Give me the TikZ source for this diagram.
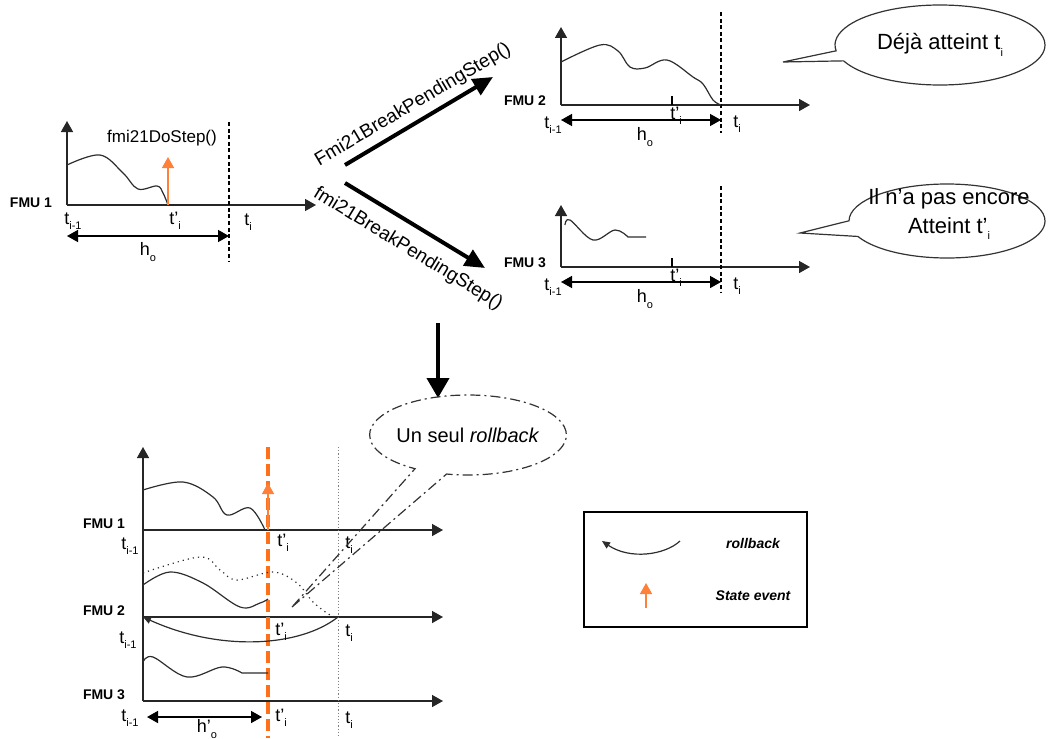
\documentclass[tikz,border=0pt]{standalone}
\usepackage{fontspec}
\setmainfont{Liberation Sans}
\usetikzlibrary{arrows.meta,shapes.geometric,shapes.callouts}
\definecolor{evorange}{RGB}{255,112,24}
\definecolor{evlight}{RGB}{255,128,56}
\definecolor{sigcol}{RGB}{45,45,45}
\newcommand{\lowsub}[2]{#1\raisebox{-0.55ex}{\fontsize{5.5}{6}\selectfont #2}}

\begin{document}
\begin{tikzpicture}[x=0.5pt, y=-0.5pt, >={Triangle[length=5.5pt,width=6pt]},
	every node/.style={font=\fontsize{9}{11}\selectfont, inner sep=1pt},
	fmu/.style={font=\bfseries\fontsize{7}{8}\selectfont},
	leg/.style={font=\bfseries\itshape\fontsize{7}{8}\selectfont},
	axis/.style={draw=black!85, line width=0.75pt, ->},
	span/.style={draw=black, line width=0.75pt, <->},
	signal/.style={draw=sigcol, line width=0.6pt},
	stepline/.style={draw=black, line width=1pt, dash pattern=on 2pt off 1.3pt},
	event/.style={draw=evlight, line width=0.75pt, ->},
	bigarrow/.style={line width=2pt, -{Triangle[length=10pt,width=9pt]}},
	bubble/.style={ellipse callout, draw=black!80, line width=0.6pt, fill=white, align=center, font=\fontsize{11}{14.5}\selectfont},
	call/.style={font=\fontsize{9.5}{11}\selectfont}]
	\useasboundingbox (0,0) rectangle (1048,738);

	% FMU 1, before the step
	\coordinate (O1) at (67,205);
	\coordinate (Y1) at (67,121);
	\coordinate (X1) at (316,205);
	\draw[axis] (O1) -- (Y1);
	\draw[axis] (O1) -- (X1);
	\draw[signal] plot[smooth, tension=0.6] coordinates {(67,165) (100,155) (123,173) (138,189) (157,186) (163,193) (168,205)};
	\coordinate (E1) at (168,205);
	\coordinate (E1t) at (168,157);
	\draw[event] (E1) -- (E1t);
	\coordinate (Dt1) at (229,122);
	\coordinate (Db1) at (229,262);
	\draw[stepline] (Dt1) -- (Db1);
	\coordinate (Ha1) at (67,236);
	\coordinate (Hb1) at (229,236);
	\draw[span] (Ha1) -- (Hb1);
	\node[fmu] (fmu1) at (31,203) {FMU 1};
	\node (ta1) at (73,221) {\lowsub{t}{i-1}};
	\node (tp1) at (175,221) {\lowsub{t'}{i}};
	\node (ti1) at (248,222) {\lowsub{t}{i}};
	\node (h1) at (148,252) {\lowsub{h}{o}};
	\node[font=\fontsize{8.5}{10}\selectfont] (do1) at (162,138) {fmi21DoStep()};

	% FMU 2 and FMU 3 after the request
	\foreach \n/\y/\ytop/\dtop/\dbot in {2/105/27/12/133, 3/267/205/186/292} {
		\coordinate (O\n) at (561,\y);
		\coordinate (Y\n) at (561,\ytop);
		\coordinate (X\n) at (810,\y);
		\draw[axis] (O\n) -- (Y\n);
		\draw[axis] (O\n) -- (X\n);
		\coordinate (Dt\n) at (721,\dtop);
		\coordinate (Db\n) at (721,\dbot);
		\draw[stepline] (Dt\n) -- (Db\n);
		\coordinate (K\n) at (672,\y-9);
		\draw[line width=0.6pt] (K\n) -- (K\n |- O\n);
		\coordinate (Ha\n) at (561,\y+15);
		\coordinate (Hb\n) at (721,\y+15);
		\draw[span] (Ha\n) -- (Hb\n);
		\node[fmu] (fmu\n) at (525,\y-4) {FMU \n};
		\node (ta\n) at (553,\y+20) {\lowsub{t}{i-1}};
		\node (tp\n) at (676,\y+11) {\lowsub{t'}{i}};
		\node (ti\n) at (737,\y+19) {\lowsub{t}{i}};
		\node (h\n) at (645,\y+32) {\lowsub{h}{o}};
	}
	\draw[signal] plot[smooth, tension=0.6] coordinates {(561,62) (600,45) (618,51) (630,67) (645,68) (667,60) (693,77) (703,84) (713,100) (721,105)};
	\draw[signal] plot[smooth, tension=0.6] coordinates {(565,225) (570,220) (593,240) (615,230) (628,237)} -- (646,237);

	% requests
	\coordinate (A2s) at (345,165);
	\coordinate (A2e) at (493,77);
	\coordinate (A3s) at (345,183);
	\coordinate (A3e) at (485,268);
	\draw[bigarrow] (A2s) -- (A2e);
	\draw[bigarrow] (A3s) -- (A3e);
	\node[call, rotate=30.7] (brk2) at (413,105) {Fmi21BreakPendingStep()};
	\node[call, rotate=-31.5] (brk3) at (408,249) {fmi21BreakPendingStep()};

	\coordinate (tipD) at (783,62);
	\node[bubble, minimum width=105pt, minimum height=40pt, callout absolute pointer={(tipD)}] (deja) at (940,45) {Déjà atteint \lowsub{t}{i}};
	\coordinate (tipP) at (800,233);
	\node[bubble, minimum width=98pt, minimum height=37pt, callout pointer arc=25, callout absolute pointer={(tipP)}] (pasencore) at (947,221) {};
	\node[align=center, font=\fontsize{11}{14.5}\selectfont] (pastext) at (949,214) {Il n'a pas encore\\Atteint \lowsub{t'}{i}};

	\coordinate (Vs) at (438,323);
	\coordinate (Ve) at (438,398);
	\draw[line width=2pt, -{Triangle[length=10pt,width=11pt]}] (Vs) -- (Ve);

	% single rollback
	\coordinate (Top) at (143,447);
	\coordinate (Bot) at (143,701);
	\draw[axis] (Bot) -- (Top);
	\foreach \n/\y in {1/530, 2/617, 3/701} {
		\coordinate (L\n) at (143,\y);
		\coordinate (R\n) at (443,\y);
		\draw[axis] (L\n) -- (R\n);
		\node[fmu] (bfmu\n) at (104,\y-6) {FMU \n};
	}
	\coordinate (Et) at (268,447);
	\coordinate (Eb) at (268,738);
	\draw[evorange, line width=2pt, dash pattern=on 6pt off 2.5pt] (Et) -- (Eb);
	\coordinate (Ea) at (268,483);
	\draw[event] (Et |- L1) -- (Ea);
	\coordinate (Gt) at (338,447);
	\coordinate (Gb) at (338,738);
	\draw[gray, line width=0.5pt, dash pattern=on 0.6pt off 1pt] (Gt) -- (Gb);

	\draw[signal] plot[smooth, tension=0.6] coordinates {(143,490) (183,482) (213,497) (227,515) (250,508) (265,530)};
	\draw[signal, dotted] plot[smooth, tension=0.6] coordinates {(143,573) (200,557) (220,570) (237,580) (273,572) (297,583) (313,602) (330,615) (338,617)};
	\draw[signal] plot[smooth, tension=0.6] coordinates {(143,585) (170,572) (203,583) (240,607) (260,603) (268,599)};
	\draw[signal] plot[smooth, tension=0.6] coordinates {(143,662) (153,657) (187,677) (222,667) (242,673)} -- (268,673);
	\coordinate (Rb) at (338,617);
	\draw[signal, -{Triangle[length=4pt,width=3.5pt]}] (Rb) .. controls (300,647) and (220,652) .. (L2);

	\node (bta1) at (130,546) {\lowsub{t}{i-1}};
	\node (btp1) at (283,543) {\lowsub{t'}{i}};
	\node (bti1) at (349,545) {\lowsub{t}{i}};
	\node (bta2) at (128,640) {\lowsub{t}{i-1}};
	\node (btp2) at (281,632) {\lowsub{t'}{i}};
	\node (bti2) at (349,633) {\lowsub{t}{i}};
	\node (bta3) at (130,718) {\lowsub{t}{i-1}};
	\node (btp3) at (281,718) {\lowsub{t'}{i}};
	\node (bti3) at (349,720) {\lowsub{t}{i}};
	\coordinate (Sa) at (147,717);
	\coordinate (Sb) at (262,717);
	\draw[span] (Sa) -- (Sb);
	\node (bh) at (207,729) {\lowsub{h'}{o}};

	\coordinate (tipR) at (292,607);
	\node[ellipse callout, draw=black!80, line width=0.6pt, dash pattern=on 5pt off 2pt on 1pt off 2pt, inner xsep=-1pt, minimum width=98pt, minimum height=40pt, callout pointer arc=20, callout absolute pointer={(tipR)}, font=\fontsize{10}{12}\selectfont] (seul) at (468,435) {Un seul \textit{rollback}};

	% legend
	\node[draw, line width=1pt, minimum width=111.5pt, minimum height=57.5pt] (legend) at (695.5,569.5) {};
	\coordinate (La) at (680,541);
	\coordinate (Lb) at (602,541);
	\draw[signal, -{Triangle[length=4pt,width=3.5pt]}] (La) .. controls (665,555) and (630,560) .. (Lb);
	\coordinate (Lc) at (646,608);
	\coordinate (Ld) at (646,583);
	\draw[event] (Lc) -- (Ld);
	\node[leg] (legrb) at (753,543) {rollback};
	\node[leg] (legse) at (753,596) {State event};
\end{tikzpicture}
\end{document}
